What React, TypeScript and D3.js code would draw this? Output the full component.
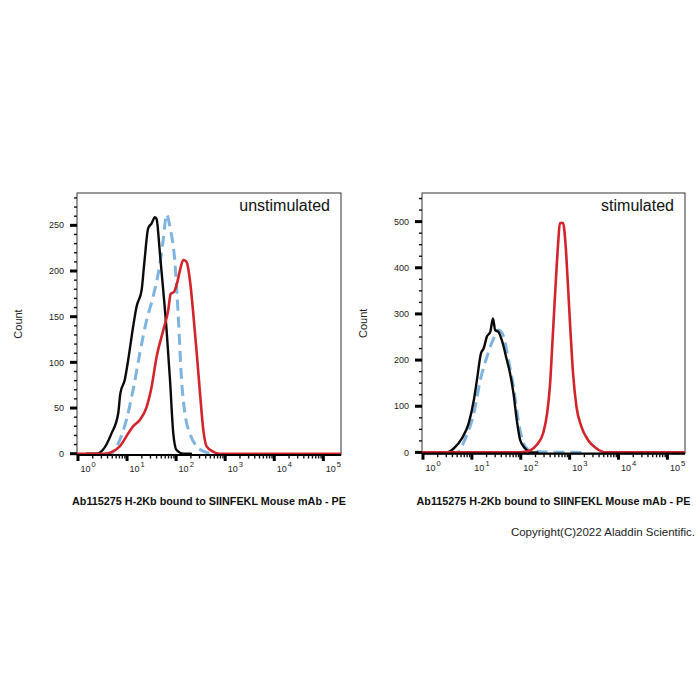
import React from "react";
import * as d3 from "d3";

// ---- Unstimulated panel: fluorescence intensity (PE) vs event count ----
const unstimControlX = [1.5, 2.4, 3.2, 4.8, 6.6, 7.3, 9.0, 10.5, 13.3, 15.6, 19.8, 22.4, 27, 31.6, 37, 40, 46.8, 54.6, 64, 75, 87.6, 102, 140, 200];
const unstimControlY = [0, 0, 4, 22, 44, 66, 81, 102, 139, 161, 179, 208, 247, 252, 259, 257, 219, 179, 135, 81, 22, 4, 0, 0];

const unstimIsotypeX = [3.5, 4.5, 7.1, 9.7, 13.3, 18.2, 25, 34, 46.8, 54.6, 64, 75, 95, 110, 129, 151, 191, 263, 390, 550];
const unstimIsotypeY = [0, 0, 15, 37, 70, 110, 146, 172, 208, 234, 262, 248, 208, 153, 81, 44, 22, 8, 2, 0];

const unstimStainedX = [3.5, 4.5, 7.1, 10.5, 13.3, 18.2, 25, 31.6, 40, 54.6, 69, 77.5, 90, 105, 120, 140, 163, 191, 224, 263, 307, 358, 418, 575, 750];
const unstimStainedY = [0, 1, 8, 22, 30, 37, 51, 73, 106, 135, 157, 175, 177, 187, 201, 212, 210, 190, 153, 110, 66, 26, 8, 2, 0];

// ---- Stimulated panel ----
const stimControlX = [2.5, 3.1, 4.3, 6.3, 8.6, 11, 12.7, 15.4, 17.4, 20.3, 23.8, 27, 30, 35, 41, 52, 60.5, 71, 83, 97, 122, 167, 220];
const stimControlY = [0, 0, 9, 31, 63, 114, 157, 215, 225, 251, 261, 290, 265, 261, 243, 200, 171, 128, 70, 27, 9, 0, 0];

const stimIsotypeX = [3.5, 5, 7.4, 11, 14.9, 20.3, 27.9, 35, 44.5, 56, 71, 89, 113, 155, 288, 2000];
const stimIsotypeY = [0, 0, 31, 85, 157, 207, 247, 265, 251, 200, 142, 70, 20, 4, 1, 0];

const stimStainedX = [100, 155, 211, 288, 347, 394, 459, 523, 588, 630, 733, 832, 927, 1037, 1175, 1380, 1740, 2370, 3500, 5600];
const stimStainedY = [0, 4, 16, 42, 85, 142, 265, 373, 460, 497, 497, 445, 359, 265, 171, 99, 56, 27, 9, 0];

// ---- Axis ticks and labels ----
const decades = [0, 1, 2, 3, 4, 5];
const unstimMajorY = [0, 50, 100, 150, 200, 250];
const stimMajorY = [0, 100, 200, 300, 400, 500];
const xTitle = "Ab115275 H-2Kb bound to SIINFEKL Mouse mAb - PE";
const yTitle = "Count";
const copyright = "Copyright(C)2022 Aladdin Scientific.";

const FONT = "'Liberation Sans', Arial, sans-serif";
const COLORS = { control: "#0a0a0a", isotype: "#7db4e0", stained: "#d3242c" };
const X_DOMAIN: [number, number] = [Math.pow(10, -0.02), Math.pow(10, 5.36)];

type Series = { xs: number[]; ys: number[] };

interface PanelProps {
  id: string;
  left: number;
  right: number;
  top: number;
  zeroY: number;
  yMax: number;
  majorY: number[];
  minorStep: number;
  labelRight: number;
  countX: number;
  title: string;
  control: Series;
  isotype: Series;
  stained: Series;
}

function Panel(p: PanelProps) {
  const bottom = p.zeroY + 1.3;
  const x = d3.scaleLog().domain(X_DOMAIN).range([p.left, p.right]);
  const y = d3.scaleLinear().domain([0, p.yMax]).range([p.zeroY, p.top]);

  const line = d3
    .line<[number, number]>()
    .x((d) => x(d[0]))
    .y((d) => y(d[1]))
    .curve(d3.curveMonotoneX);

  const pts = (s: Series, full = false): [number, number][] => {
    const arr: [number, number][] = s.xs.map((v, i) => [v, s.ys[i]]);
    if (full) {
      arr.unshift([X_DOMAIN[0], 0]);
      arr.push([X_DOMAIN[1], 0]);
    }
    return arr;
  };

  const minorX: number[] = [];
  for (let d = 0; d < 5; d++) for (let k = 2; k <= 9; k++) minorX.push(k * Math.pow(10, d));

  const minorY: number[] = [];
  for (let v = 0; v <= p.yMax; v += p.minorStep) if (!p.majorY.includes(v)) minorY.push(v);

  const clipId = `clip-${p.id}`;
  const midX = (p.left + p.right) / 2;
  const midY = (p.top + bottom) / 2;

  return (
    <g>
      <defs>
        <clipPath id={clipId}>
          <rect x={p.left} y={p.top} width={p.right - p.left} height={bottom - p.top} />
        </clipPath>
      </defs>

      {/* frame */}
      <rect x={p.left} y={p.top} width={p.right - p.left} height={bottom - p.top} fill="#fff" stroke="#333" strokeWidth={1} />

      {/* histograms */}
      <g clipPath={`url(#${clipId})`} fill="none" strokeLinejoin="round" strokeLinecap="round">
        <path d={line(pts(p.isotype)) || ""} stroke={COLORS.isotype} strokeWidth={3} strokeDasharray="11 6" strokeLinecap="butt" />
        <path d={line(pts(p.control)) || ""} stroke={COLORS.control} strokeWidth={2.4} />
        <path d={line(pts(p.stained, true)) || ""} stroke={COLORS.stained} strokeWidth={2.6} />
      </g>

      {/* x axis */}
      <line x1={p.left} x2={p.right} y1={bottom} y2={bottom} stroke="#000" strokeWidth={2.2} />
      {minorX.map((v) => (
        <line key={`mx${v}`} x1={x(v)} x2={x(v)} y1={bottom} y2={bottom + 3.5} stroke="#111" strokeWidth={1.4} />
      ))}
      {decades.map((d) => (
        <g key={`dx${d}`}>
          <line x1={x(Math.pow(10, d))} x2={x(Math.pow(10, d))} y1={bottom} y2={bottom + 6} stroke="#000" strokeWidth={3} />
          <text x={x(Math.pow(10, d)) + 2.5} y={bottom + 17} fontSize={9} fontFamily={FONT} fill="#222">
            10
            <tspan dx={1} dy={-5} fontSize={7.5}>
              {d}
            </tspan>
          </text>
        </g>
      ))}

      {/* y axis */}
      {minorY.map((v) => (
        <line key={`my${v}`} x1={p.left - 3} x2={p.left} y1={y(v)} y2={y(v)} stroke="#111" strokeWidth={1.4} />
      ))}
      {p.majorY.map((v) => (
        <g key={`jy${v}`}>
          <line x1={p.left - 7} x2={p.left} y1={y(v)} y2={y(v)} stroke="#000" strokeWidth={3} />
          <text x={p.labelRight} y={y(v)} dy="0.35em" textAnchor="end" fontSize={9} fontFamily={FONT} fill="#222">
            {v}
          </text>
        </g>
      ))}

      {/* titles */}
      <text x={p.right - 11} y={p.top + 18} textAnchor="end" fontSize={16} fontFamily={FONT} fill="#111">
        {p.title}
      </text>
      <text
        transform={`translate(${p.countX},${midY}) rotate(-90)`}
        textAnchor="middle"
        dy="0.35em"
        fontSize={11}
        fontFamily={FONT}
        fill="#222"
      >
        {yTitle}
      </text>
      <text x={midX} y={505} textAnchor="middle" fontSize={10.8} fontWeight="bold" fontFamily={FONT} fill="#111">
        {xTitle}
      </text>
    </g>
  );
}

export default function App() {
  return (
    <svg
      width={700}
      height={700}
      viewBox="0 0 700 700"
      style={{ position: "absolute", left: 0, top: 0, background: "#fff" }}
    >
      <rect width={700} height={700} fill="#fff" />
      <Panel
        id="unstim"
        left={77}
        right={341}
        top={193}
        zeroY={453.7}
        yMax={285.4}
        majorY={unstimMajorY}
        minorStep={10}
        labelRight={64}
        countX={18}
        title="unstimulated"
        control={{ xs: unstimControlX, ys: unstimControlY }}
        isotype={{ xs: unstimIsotypeX, ys: unstimIsotypeY }}
        stained={{ xs: unstimStainedX, ys: unstimStainedY }}
      />
      <Panel
        id="stim"
        left={422}
        right={685}
        top={193}
        zeroY={452.4}
        yMax={562}
        majorY={stimMajorY}
        minorStep={25}
        labelRight={409}
        countX={363}
        title="stimulated"
        control={{ xs: stimControlX, ys: stimControlY }}
        isotype={{ xs: stimIsotypeX, ys: stimIsotypeY }}
        stained={{ xs: stimStainedX, ys: stimStainedY }}
      />
      <text x={695} y={536} textAnchor="end" fontSize={11.5} fontFamily={FONT} fill="#222">
        {copyright}
      </text>
    </svg>
  );
}
